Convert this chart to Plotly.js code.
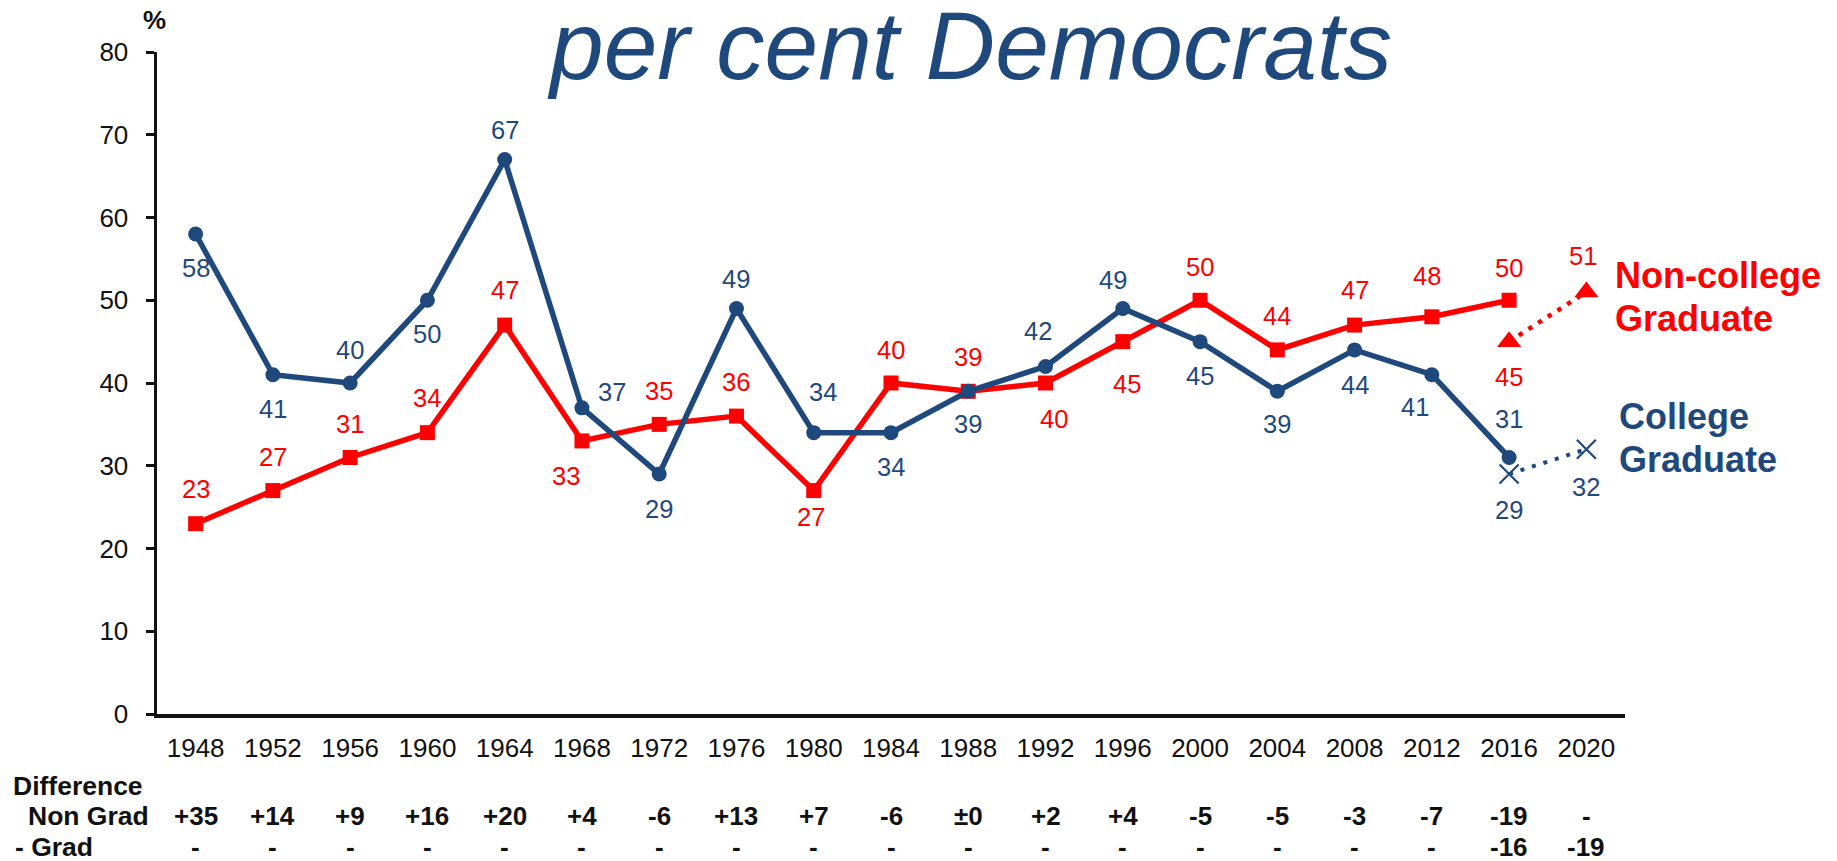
<!DOCTYPE html>
<html>
<head>
<meta charset="utf-8">
<script src="https://cdn.plot.ly/plotly-3.0.1.min.js"></script>
<style>html,body{margin:0;padding:0;background:#fff;}#chart{width:1837px;height:861px;}</style>
</head>
<body>
<div id="chart"></div>
<script>
// ---- data ----
const years = ['1948','1952','1956','1960','1964','1968','1972','1976','1980','1984','1988','1992','1996','2000','2004','2008','2012','2016','2020'];
const mainYears = years.slice(0, 18);
const collegeGrad = [58, 41, 40, 50, 67, 37, 29, 49, 34, 34, 39, 42, 49, 45, 39, 44, 41, 31];
const nonCollege = [23, 27, 31, 34, 47, 33, 35, 36, 27, 40, 39, 40, 45, 50, 44, 47, 48, 50];
const altYears = ['2016', '2020'];
const collegeGradAlt = [29, 32];
const nonCollegeAlt = [45, 51];
const diffRow1 = ['+35','+14','+9','+16','+20','+4','-6','+13','+7','-6','\u00b10','+2','+4','-5','-5','-3','-7','-19','-'];
const diffRow2 = ['-','-','-','-','-','-','-','-','-','-','-','-','-','-','-','-','-','-16','-19'];

// ---- label placement (pixels; positive dy = up) ----
const gradDy = [-34,-34,33,-34,30,16,-35,30,41,-34,-33,35,29,-34,-33,-35,-32,38];
const gradDx = [0,0,0,0,0,30,0,0,9,0,0,-8,-10,0,0,0,-17,0];
const nonDy = [35,34,33,35,35,-35,33,34,-26,33,34,-36,-42,33,34,35,41,32];
const nonDx = [0,0,0,0,0,-16,0,0,-3,0,0,8,4,0,0,0,-5,0];
const gradAltDy = [-36,-38];
const nonAltDy = [-35,36];
const nonAltDx = [0,-3];

const BLUE = '#1F497D';
const RED = '#FF0000';
const FONT = 'Liberation Sans, Arial, sans-serif';

const traces = [
  {x: mainYears, y: nonCollege, type: 'scatter', mode: 'lines+markers',
   line: {color: RED, width: 5.5}, marker: {symbol: 'square', size: 15, color: RED}, hoverinfo: 'skip'},
  {x: mainYears, y: collegeGrad, type: 'scatter', mode: 'lines+markers',
   line: {color: BLUE, width: 5.5}, marker: {symbol: 'circle', size: 15, color: BLUE}, hoverinfo: 'skip'},
  {x: altYears, y: nonCollegeAlt, type: 'scatter', mode: 'lines+markers',
   line: {color: RED, width: 4.5, dash: '4.5px,7px'}, marker: {symbol: 'triangle-up', size: 21, color: RED}, hoverinfo: 'skip'},
  {x: altYears, y: collegeGradAlt, type: 'scatter', mode: 'lines+markers',
   line: {color: BLUE, width: 4, dash: '4px,8px'}, marker: {symbol: 'x-thin', size: 19, color: BLUE, line: {color: BLUE, width: 2.2}}, hoverinfo: 'skip'}
];

const ann = [];
function lab(xi, y, text, color, dx, dy) {
  ann.push({x: xi, y: y, xref: 'x', yref: 'y', text: String(text), showarrow: false,
    xanchor: 'center', yanchor: 'middle', xshift: dx, yshift: dy,
    font: {family: FONT, size: 25.5, color: color}});
}
mainYears.forEach((yr, i) => {
  const xi = years.indexOf(yr);
  lab(xi, collegeGrad[i], collegeGrad[i], BLUE, gradDx[i], gradDy[i]);
  lab(xi, nonCollege[i], nonCollege[i], RED, nonDx[i], nonDy[i]);
});
altYears.forEach((yr, i) => {
  const xi = years.indexOf(yr);
  lab(xi, collegeGradAlt[i], collegeGradAlt[i], BLUE, 0, gradAltDy[i]);
  lab(xi, nonCollegeAlt[i], nonCollegeAlt[i], RED, nonAltDx[i], nonAltDy[i]);
});

// difference rows
years.forEach((yr, i) => {
  ann.push({x: i, y: -0.1546, xref: 'x', yref: 'paper', text: '<b>' + diffRow1[i] + '</b>', showarrow: false,
    xanchor: 'center', yanchor: 'middle', font: {family: FONT, size: 26, color: '#111'}});
  ann.push({x: i, y: -0.2009, xref: 'x', yref: 'paper', text: '<b>' + diffRow2[i] + '</b>', showarrow: false,
    xanchor: 'center', yanchor: 'middle', font: {family: FONT, size: 26, color: '#111'}});
});
function txt(text, x, y, xanchor, size, color) {
  ann.push({x: x, y: y, xref: 'paper', yref: 'paper', text: text, showarrow: false,
    xanchor: xanchor, yanchor: 'middle', font: {family: FONT, size: size, color: color}});
}
txt('<b>Difference</b>', -0.0995, -0.1083, 'left', 26.5, '#111');
txt('<b>Non Grad</b>', -0.0893, -0.1546, 'left', 26.5, '#111');
txt('<b>- Grad</b>', -0.0981, -0.2009, 'left', 26.5, '#111');
txt('<b>%</b>', -0.002, 1.049, 'center', 26, '#111');
txt('<i>per cent Democrats</i>', 0.5538, 1.010, 'center', 96.5, BLUE);
txt('<b>Non-college</b>', 0.9919, 0.663, 'left', 36, RED);
txt('<b>Graduate</b>', 0.9919, 0.598, 'left', 36, RED);
txt('<b>College</b>', 0.9946, 0.450, 'left', 36, BLUE);
txt('<b>Graduate</b>', 0.9946, 0.3837, 'left', 36, BLUE);

const layout = {
  width: 1837, height: 861,
  margin: {l: 157, r: 212, t: 52, b: 147},
  paper_bgcolor: '#fff', plot_bgcolor: '#fff',
  showlegend: false,
  font: {family: FONT, color: '#111'},
  xaxis: {type: 'category', categoryorder: 'array', categoryarray: years, range: [-0.5, 18.5],
    showline: true, linecolor: '#111', linewidth: 3.5, ticks: '', showgrid: false, zeroline: false,
    tickfont: {family: FONT, size: 26, color: '#111'}, ticklabelstandoff: 8, fixedrange: true},
  yaxis: {range: [0, 80], dtick: 10, tick0: 0, showline: true, linecolor: '#111', linewidth: 3.5,
    ticks: 'outside', ticklen: 8, tickwidth: 3, tickcolor: '#111', showgrid: false, zeroline: false,
    tickfont: {family: FONT, size: 26, color: '#111'}, ticklabelstandoff: 12, fixedrange: true},
  annotations: ann
};
Plotly.newPlot('chart', traces, layout, {staticPlot: true, displayModeBar: false});
</script>
</body>
</html>
